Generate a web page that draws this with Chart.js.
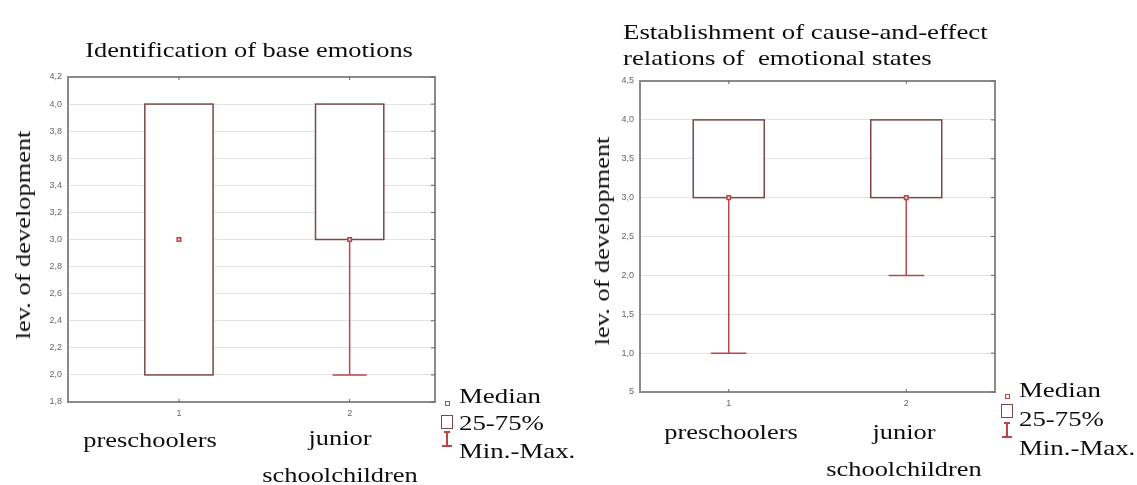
<!DOCTYPE html>
<html>
<head>
<meta charset="utf-8">
<script src="https://cdn.jsdelivr.net/npm/chart.js@4/dist/chart.umd.min.js"></script>
<style>
  body { margin: 0; background: #fff; }
  #wrap { position: relative; width: 1137px; height: 485px; overflow: hidden; }
  canvas { position: absolute; top: 0; }
  .t {
    position: absolute;
    font-family: "Liberation Serif", "DejaVu Serif", serif;
    font-size: 22px;
    color: #0d0d0d;
    white-space: pre;
    line-height: 1;
  }
  .ico { position: absolute; box-sizing: border-box; }
</style>
</head>
<body>
<div id="wrap">
  <canvas id="chartA" width="560" height="485" style="left:0"></canvas>
  <canvas id="chartB" width="577" height="485" style="left:560px"></canvas>
</div>
<script>
/* ==========================
   DATA
========================== */

const categories = ["preschoolers", "junior schoolchildren"];
const positions = [1, 2];
const xTickLabels = ["1", "2"];

// Identification of base emotions
const medianA = [3, 3];
const q1A = [2, 3];
const q3A = [4, 4];
const minA = [2, 2];
const maxA = [4, 4];
const yValuesA = [1.8, 2.0, 2.2, 2.4, 2.6, 2.8, 3.0, 3.2, 3.4, 3.6, 3.8, 4.0, 4.2];
const yLabelsA = ["1,8", "2,0", "2,2", "2,4", "2,6", "2,8", "3,0", "3,2", "3,4", "3,6", "3,8", "4,0", "4,2"];

// Establishment of cause-and-effect relations
const medianB = [3, 3];
const q1B = [3, 3];
const q3B = [4, 4];
const minB = [1, 2];
const maxB = [4, 4];
const yValuesB = [0.5, 1.0, 1.5, 2.0, 2.5, 3.0, 3.5, 4.0, 4.5];
const yLabelsB = ["5", "1,0", "1,5", "2,0", "2,5", "3,0", "3,5", "4,0", "4,5"];

const BOX_COLOR = "#7b4747";
const WHISKER_COLOR = "#b9474a";
const FRAME_COLOR = "#8a8a8a";

/* ==========================
   BOX PLOT PLUGIN
========================== */

const boxPlugin = {
    id: "boxes",
    beforeDatasetsDraw(chart, args, opts) {
        const ctx = chart.ctx;
        const xs = chart.scales.x;
        const ys = chart.scales.y;
        ctx.save();
        positions.forEach((p, i) => {
            const cx = xs.getPixelForValue(p);
            const capL = xs.getPixelForValue(p - 0.1);
            const capR = xs.getPixelForValue(p + 0.1);
            ctx.strokeStyle = WHISKER_COLOR;
            ctx.lineWidth = 1.5;
            if (opts.min[i] < opts.q1[i]) {
                const yMin = ys.getPixelForValue(opts.min[i]);
                ctx.beginPath();
                ctx.moveTo(cx, ys.getPixelForValue(opts.q1[i]));
                ctx.lineTo(cx, yMin);
                ctx.moveTo(capL, yMin);
                ctx.lineTo(capR, yMin);
                ctx.stroke();
            }
            if (opts.max[i] > opts.q3[i]) {
                const yMax = ys.getPixelForValue(opts.max[i]);
                ctx.beginPath();
                ctx.moveTo(cx, ys.getPixelForValue(opts.q3[i]));
                ctx.lineTo(cx, yMax);
                ctx.moveTo(capL, yMax);
                ctx.lineTo(capR, yMax);
                ctx.stroke();
            }
            const l = xs.getPixelForValue(p - 0.2);
            const r = xs.getPixelForValue(p + 0.2);
            const top = ys.getPixelForValue(opts.q3[i]);
            const bot = ys.getPixelForValue(opts.q1[i]);
            ctx.fillStyle = "#fff";
            ctx.fillRect(l, top, r - l, bot - top);
            ctx.strokeStyle = BOX_COLOR;
            ctx.lineWidth = 1.5;
            ctx.strokeRect(l, top, r - l, bot - top);
        });
        ctx.restore();
    },
    afterDraw(chart) {
        const ctx = chart.ctx;
        const a = chart.chartArea;
        const xs = chart.scales.x;
        const ys = chart.scales.y;
        ctx.save();
        ctx.strokeStyle = FRAME_COLOR;
        ctx.lineWidth = 2;
        ctx.beginPath();
        ctx.moveTo(a.left, a.top);
        ctx.lineTo(a.right, a.top);
        ctx.lineTo(a.right, a.bottom);
        ctx.stroke();
        ctx.lineWidth = 1;
        ctx.strokeStyle = "#666";
        ctx.beginPath();
        ys.ticks.forEach(t => {
            const y = ys.getPixelForValue(t.value);
            ctx.moveTo(a.right, y);
            ctx.lineTo(a.right - 4, y);
        });
        positions.forEach(p => {
            const x = xs.getPixelForValue(p);
            ctx.moveTo(x, a.top);
            ctx.lineTo(x, a.top + 3);
            ctx.moveTo(x, a.bottom);
            ctx.lineTo(x, a.bottom - 3);
        });
        ctx.stroke();
        ctx.restore();
    }
};

/* ==========================
   CHART BUILDER
========================== */

function renderBoxChart(id, cfg) {

    const canvas = document.getElementById(id);

    return new Chart(canvas, {

        type: "scatter",

        data: {
            datasets: [{
                label: "Median",
                data: positions.map((p, i) => ({ x: p, y: cfg.median[i] })),
                pointStyle: "rect",
                pointRadius: 2.5,
                borderColor: WHISKER_COLOR,
                backgroundColor: "#f0d2d2",
                borderWidth: 1.5
            }]
        },

        options: {
            responsive: false,
            animation: false,
            layout: {
                padding: { left: 0, top: cfg.top, right: cfg.right, bottom: 0 }
            },
            plugins: {
                legend: { display: false },
                tooltip: { enabled: false },
                boxes: {
                    q1: cfg.q1, q3: cfg.q3, min: cfg.min, max: cfg.max
                }
            },
            scales: {
                x: {
                    type: "linear",
                    min: cfg.xMin,
                    max: 2.5,
                    afterBuildTicks: s => { s.ticks = positions.map(v => ({ value: v })); },
                    afterFit: s => { s.height = cfg.xHeight; },
                    ticks: {
                        callback: (v, i) => xTickLabels[i],
                        color: "#666",
                        font: { family: "Liberation Sans", size: 9 },
                        padding: 6,
                        maxRotation: 0
                    },
                    grid: { display: false, drawTicks: false },
                    border: { display: true, color: FRAME_COLOR, width: 2 }
                },
                y: {
                    min: cfg.yValues[0],
                    max: cfg.yValues[cfg.yValues.length - 1],
                    afterBuildTicks: s => { s.ticks = cfg.yValues.map(v => ({ value: v })); },
                    afterFit: s => { s.width = cfg.yWidth; },
                    ticks: {
                        callback: (v, i) => cfg.yLabels[i],
                        color: "#666",
                        font: { family: "Liberation Sans", size: 9 },
                        padding: 6
                    },
                    grid: { color: "#e3e3e3", lineWidth: 1, drawTicks: false },
                    border: { display: true, color: FRAME_COLOR, width: 2 }
                }
            }
        },

        plugins: [boxPlugin]
    });
}

renderBoxChart("chartA", {
    median: medianA, q1: q1A, q3: q3A, min: minA, max: maxA,
    yValues: yValuesA, yLabels: yLabelsA,
    xMin: 0.35, top: 77, right: 125, yWidth: 68, xHeight: 83
});

renderBoxChart("chartB", {
    median: medianB, q1: q1B, q3: q3B, min: minB, max: maxB,
    yValues: yValuesB, yLabels: yLabelsB,
    xMin: 0.5, top: 81, right: 142, yWidth: 80, xHeight: 93
});

/* ==========================
   TEXT AND LEGENDS
========================== */

const wrap = document.getElementById("wrap");

function addText(str, cx, cy, rot) {
    const d = document.createElement("div");
    d.className = "t";
    d.textContent = str;
    d.style.left = cx + "px";
    d.style.top = cy + "px";
    d.style.transform = "translate(-50%, -50%)" + (rot ? " rotate(-90deg)" : "") + " scaleX(1.2)";
    wrap.appendChild(d);
}

function addTextLeft(str, x, cy) {
    const d = document.createElement("div");
    d.className = "t";
    d.textContent = str;
    d.style.left = x + "px";
    d.style.top = cy + "px";
    d.style.transformOrigin = "0 50%";
    d.style.transform = "translateY(-50%) scaleX(1.22)";
    wrap.appendChild(d);
}

function addIcon(css) {
    const d = document.createElement("div");
    d.className = "ico";
    Object.assign(d.style, css);
    wrap.appendChild(d);
}

function addLegend(x, y0, rows) {
    // median marker
    addIcon({ left: (x + 4) + "px", top: (y0 + 6) + "px", width: "5px", height: "5px", border: "1.5px solid " + WHISKER_COLOR });
    // box marker
    addIcon({ left: x + "px", top: (y0 + rows[1] - 8) + "px", width: "12px", height: "14px", border: "1.5px solid " + BOX_COLOR });
    // whisker marker
    addIcon({ left: (x + 5) + "px", top: (y0 + rows[2] - 14) + "px", width: "1.5px", height: "15px", background: WHISKER_COLOR });
    addIcon({ left: (x + 1) + "px", top: (y0 + rows[2]) + "px", width: "10px", height: "1.5px", background: WHISKER_COLOR });
    addIcon({ left: (x + 3) + "px", top: (y0 + rows[2] - 14) + "px", width: "6px", height: "1.5px", background: WHISKER_COLOR });
}

// left chart
addText("Identification of base emotions", 249, 50);
addText("lev. of development", 23, 235, true);
addText("preschoolers", 150, 440);
addText("junior", 340, 438);
addText("schoolchildren", 340, 475);
addLegend(441, 395, [0, 28, 50]);
addTextLeft("Median", 459, 396);
addTextLeft("25-75%", 459, 423);
addTextLeft("Min.-Max.", 459, 451);

// right chart
addTextLeft("Establishment of cause-and-effect", 623, 32);
addTextLeft("relations of  emotional states", 623, 58);
addText("lev. of development", 602, 241, true);
addText("preschoolers", 731, 432);
addText("junior", 904, 432);
addText("schoolchildren", 904, 469);
addLegend(1001, 388, [0, 24, 48]);
addTextLeft("Median", 1019, 390);
addTextLeft("25-75%", 1019, 419);
addTextLeft("Min.-Max.", 1019, 448);
</script>
</body>
</html>
